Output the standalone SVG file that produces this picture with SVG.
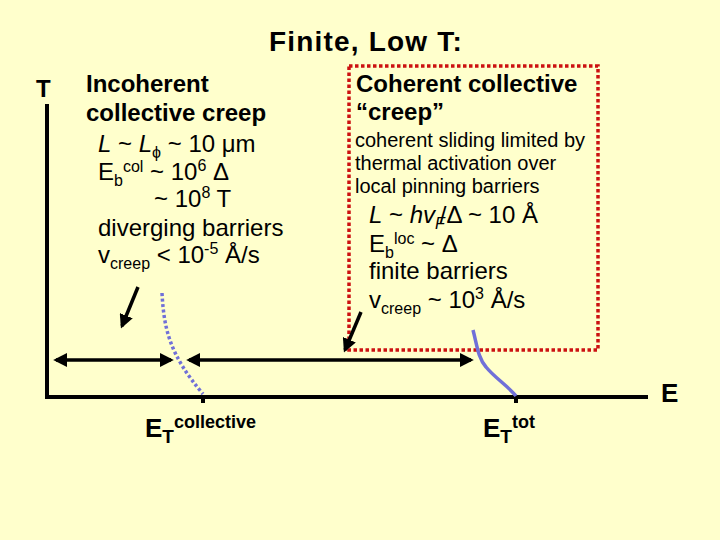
<svg xmlns="http://www.w3.org/2000/svg" width="720" height="540" viewBox="0 0 720 540">
<defs>
<style>
text{font-family:"Liberation Sans",Arial,sans-serif;fill:#000}
.b{font-weight:bold}
.r24{font-size:24px}
.ax{stroke:#000;stroke-width:4;fill:none}
.arr{stroke:#000;stroke-width:3.5;fill:none}
</style>
<marker id="ah" viewBox="0 0 10 10" refX="8" refY="5" markerWidth="4" markerHeight="4" orient="auto-start-reverse" markerUnits="strokeWidth">
<path d="M0,0 L10,5 L0,10 z" fill="#000"/>
</marker>
</defs>
<rect width="720" height="540" fill="#FFFFCC"/>
<g id="title"><text x="366" y="51" class="b" font-size="28" letter-spacing="1.2" text-anchor="middle">Finite, Low T:</text></g>
<g id="axes">
<path class="ax" d="M47,104 V397 H648"/>
<path class="ax" d="M203,397 V403 M516,397 V403"/>
<text x="36" y="97" class="b" font-size="24">T</text>
<text x="661" y="402" class="b" font-size="26">E</text>
</g>
<g id="incoherent">
<text x="86" y="92" class="b r24">Incoherent</text>
<text x="86" y="121" class="b r24">collective creep</text>
<text x="98" y="152" class="r24"><tspan font-style="italic">L</tspan> ~ <tspan font-style="italic">L</tspan><tspan font-size="16" dy="6">ϕ</tspan><tspan dy="-6"> ~ 10 μm</tspan></text>
<text x="98" y="180" class="r24">E<tspan font-size="16" dy="6">b</tspan><tspan font-size="16" dy="-14">col</tspan><tspan dy="8"> ~ 10</tspan><tspan font-size="16" dy="-9">6</tspan><tspan dy="9"> Δ</tspan></text>
<text x="154" y="207" class="r24">~ 10<tspan font-size="16" dy="-9">8</tspan><tspan dy="9"> T</tspan></text>
<text x="98" y="236" class="r24">diverging barriers</text>
<text x="98" y="263" class="r24">v<tspan font-size="16" dy="6">creep</tspan><tspan dy="-6"> &lt; 10</tspan><tspan font-size="16" dy="-9">-5</tspan><tspan dy="9"> Å/s</tspan></text>
</g>
<g id="coherent">
<rect x="349" y="66" width="249" height="284" fill="none" stroke="#CC1111" stroke-width="3.5" stroke-dasharray="3.5,2.5"/>
<text x="356" y="92" class="b r24">Coherent collective</text>
<text x="356" y="120" class="b r24">“creep”</text>
<text x="355" y="147" font-size="20">coherent sliding limited by</text>
<text x="355" y="170" font-size="20">thermal activation over</text>
<text x="355" y="193" font-size="20">local pinning barriers</text>
<text x="369" y="223" class="r24"><tspan font-style="italic">L</tspan> ~ <tspan font-style="italic">hv</tspan><tspan font-style="italic" font-size="16" dy="6">F</tspan><tspan dx="-5" dy="-6">/Δ ~ 10 Å</tspan></text>
<text x="369" y="252" class="r24">E<tspan font-size="16" dy="6">b</tspan><tspan font-size="16" dy="-14">loc</tspan><tspan dy="8"> ~ Δ</tspan></text>
<text x="369" y="279" class="r24">finite barriers</text>
<text x="369" y="308" class="r24">v<tspan font-size="16" dy="6">creep</tspan><tspan dy="-6"> ~ 10</tspan><tspan font-size="16" dy="-9">3</tspan><tspan dy="9"> Å/s</tspan></text>
</g>
<g id="labels">
<text x="145" y="437" class="b" font-size="26">E<tspan font-size="19" dy="6">T</tspan><tspan font-size="18" dy="-15">collective</tspan></text>
<text x="483" y="437" class="b" font-size="26">E<tspan font-size="19" dy="6">T</tspan><tspan font-size="18" dy="-15">tot</tspan></text>
</g>
<g id="connectors">
<line class="arr" x1="56" y1="360" x2="171" y2="360" marker-start="url(#ah)" marker-end="url(#ah)"/>
<line class="arr" x1="189" y1="360" x2="471" y2="360" marker-start="url(#ah)" marker-end="url(#ah)"/>
<line class="arr" x1="138" y1="287" x2="122" y2="326" marker-end="url(#ah)"/>
<line class="arr" x1="361" y1="312" x2="345" y2="350" marker-end="url(#ah)"/>
<path d="M162,293 C164,330 170,355 203,394" fill="none" stroke="#7070D8" stroke-width="3.5" stroke-dasharray="3,2.5"/>
<path d="M473,330 C477,345 478,358 486,367 C495,378 508,386 516,396" fill="none" stroke="#7070D8" stroke-width="3.5"/>
</g>
</svg>
